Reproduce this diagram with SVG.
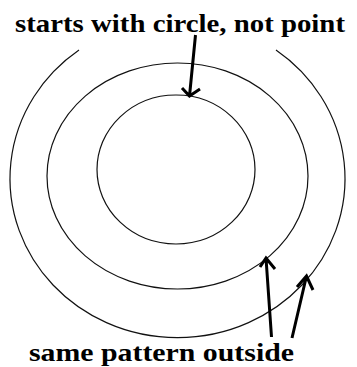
<svg xmlns="http://www.w3.org/2000/svg" width="357" height="367" viewBox="0 0 357 367">
<style>
.ring{fill:none;stroke:#111;stroke-width:1.2}
.arr{fill:none;stroke:#000;stroke-width:3;stroke-linecap:butt;stroke-linejoin:miter}
.lbl{font-family:'Liberation Serif',serif;font-weight:bold;font-size:25px;fill:#000}
</style>
<rect width="357" height="367" fill="#fff"/>
<g id="inner-circle"><ellipse class="ring" cx="176" cy="169.5" rx="79" ry="74.5"/></g>
<g id="middle-circle"><ellipse class="ring" cx="177.5" cy="176" rx="130.5" ry="113"/></g>
<g id="outer-circle"><path class="ring" d="M79,50 A167.5,159 0 1 0 276,50"/></g>
<g id="label-top"><text class="lbl" x="15" y="32" textLength="330" lengthAdjust="spacingAndGlyphs">starts with circle, not point</text></g>
<g id="label-bottom"><text class="lbl" x="29" y="361" textLength="265" lengthAdjust="spacingAndGlyphs">same pattern outside</text></g>
<g id="connectors">
<path class="arr" d="M195.5,35 L189.5,96 M182,88 L189.5,96 L200,89"/>
<path class="arr" d="M271.5,337 L266,258 M260,267 L266,258 L275,269"/>
<path class="arr" d="M292,338 L306.5,276 M297,287 L306.5,276 L313,290"/>
</g>
</svg>
